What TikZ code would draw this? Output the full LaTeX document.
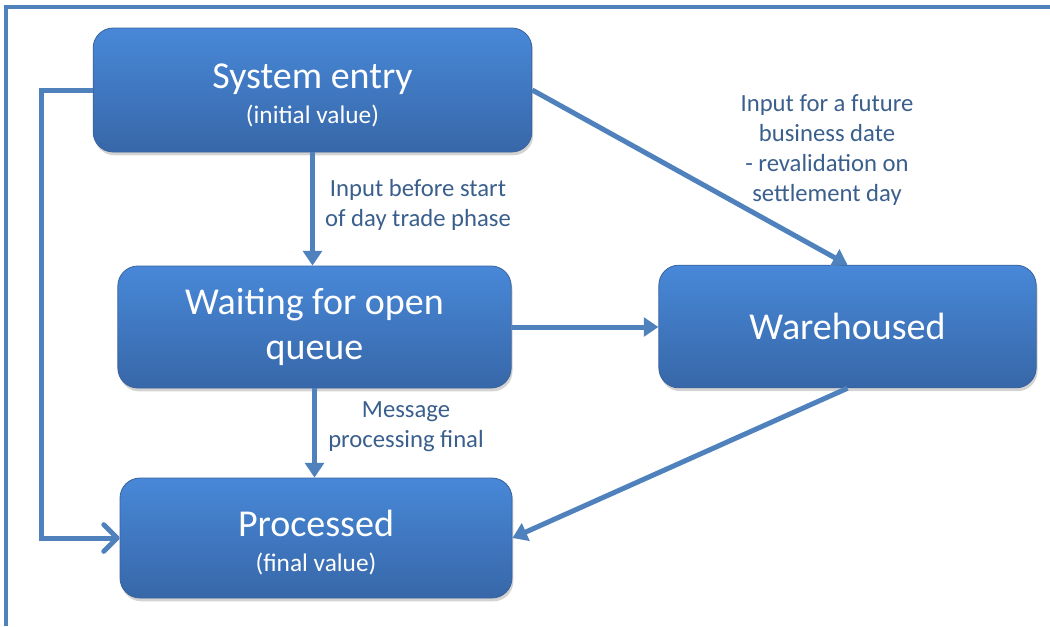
\documentclass[tikz,border=0pt]{standalone}
\usepackage{fontspec}
\setmainfont{Carlito}
\usepackage{tikz}
\usetikzlibrary{arrows.meta,shadows}
\definecolor{flowblue}{RGB}{79,129,189}
\definecolor{boxtop}{RGB}{72,136,216}
\definecolor{boxbottom}{RGB}{55,103,168}
\definecolor{boxedge}{RGB}{58,98,155}
\definecolor{notecolor}{RGB}{58,95,140}
\newcommand{\statefont}{\fontsize{28.5}{34}\selectfont}
\newcommand{\subfont}{\fontsize{19}{22}\selectfont}
\tikzstyle{state}=[rounded corners=15pt,top color=boxtop,bottom color=boxbottom,
  draw=boxedge,line width=0.6pt,text=white,align=center,inner sep=0pt,
  drop shadow={shadow xshift=1pt,shadow yshift=-2.5pt,opacity=0.35},font=\statefont]
\tikzstyle{note}=[text=notecolor,align=center,inner sep=0pt,
  font=\fontsize{18.5}{22.5}\selectfont]
\tikzstyle{flow}=[draw=flowblue,line width=3.75pt,-{Triangle[length=11pt,width=14pt]}]
\tikzstyle{frameline}=[draw=flowblue,line width=2.4pt]

\begin{document}
\begin{tikzpicture}[x=0.75pt,y=-0.75pt]
  \useasboundingbox (0,0) rectangle (1050,626);
  \draw[frameline] (1050,7) -- (6,7) -- (6,626);
  \node[state,minimum width=329pt,minimum height=93pt] (entry) at (312.5,90)
    {\rule{0pt}{27pt}System entry\\[-8pt]{\subfont (initial value)}};
  \node[state,minimum width=295pt,minimum height=91.5pt] (waiting) at (314.5,327)
    {Waiting for open\\queue};
  \node[state,minimum width=294pt,minimum height=90pt] (proc) at (316,538)
    {\rule{0pt}{27pt}Processed\\[-8pt]{\subfont (final value)}};
  \node[state,minimum width=283pt,minimum height=92pt] (ware) at (847.5,326.5)
    {Warehoused};
  \node[note] (beforestart) at (418,205) {Input before start\\of day trade phase};
  \node[note] (future) at (827,150)
    {Input for a future\\business date\\- revalidation on\\settlement day};
  \node[note] (final) at (406,427) {Message\\processing final};
  \draw[flow] (entry.south) -- (entry.south |- waiting.north);
  \draw[flow] (entry.east) -- (ware.north);
  \draw[flow] (waiting.east) -- (waiting.east -| ware.west);
  \draw[flow] (waiting.south) -- (waiting.south |- proc.north);
  \draw[flow] (ware.south) -- (proc.east);
  \draw[flow,-{Straight Barb[length=10pt,width=20pt,round]}]
    (entry.west) -- ++(-51,0) |- (proc.west);
\end{tikzpicture}
\end{document}
